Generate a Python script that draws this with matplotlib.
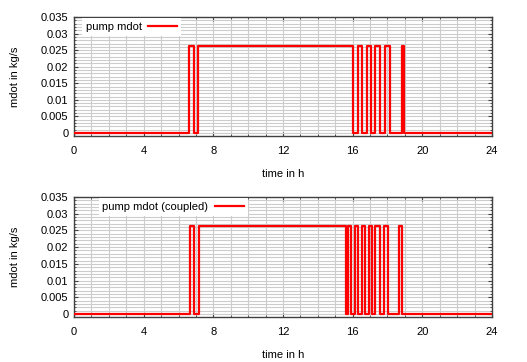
import matplotlib
matplotlib.use("Agg")
import matplotlib.pyplot as plt
from matplotlib.ticker import MultipleLocator, FuncFormatter

plt.rcParams['font.family'] = ['Liberation Sans', 'DejaVu Sans']

Q = 0.0263
# top: pump mdot (step changes, hours)
t_top = [0, 6.6, 6.9, 7.12, 16.04, 16.3, 16.56, 16.82, 17.03, 17.29, 17.57,
         17.88, 18.12, 18.81, 18.95, 24]
v_top = [0, Q, 0, Q, 0, Q, 0, Q, 0, Q, 0, Q, 0, Q, 0, 0]

# bottom: pump mdot (coupled)
t_bot = [0, 6.64, 6.9, 7.17, 15.61, 15.72, 15.92, 16.16, 16.33, 16.55, 16.72,
         16.92, 17.12, 17.31, 17.55, 17.8, 18.03, 18.64, 18.85, 24]
v_bot = [0, Q, 0, Q, 0, Q, 0, Q, 0, Q, 0, Q, 0, Q, 0, Q, 0, Q, 0, 0]

labels = ["pump mdot", "pump mdot (coupled)"]
xticks = [0, 4, 8, 12, 16, 20, 24]
yticks = [0, 0.005, 0.01, 0.015, 0.02, 0.025, 0.03, 0.035]

W, H = 527, 362
fig = plt.figure(figsize=(W / 100, H / 100), dpi=100)

def fmt(v, pos):
    return "%g" % round(v, 4)

specs = [
    (t_top, v_top, labels[0], 17, 136, (0.016, 1.0)),
    (t_bot, v_bot, labels[1], 197, 317, (0.056, 1.0)),
]
for t, v, lab, ytop, ybot, anchor in specs:
    ax = fig.add_axes([74 / W, 1 - ybot / H, 418 / W, (ybot - ytop) / H])
    ax.plot(t, v, drawstyle='steps-post', color='#ff0000', lw=1.6, label=lab,
            zorder=3)
    ax.set_xlim(0, 24)
    ax.set_ylim(-0.0009, 0.035)
    ax.set_xticks(xticks)
    ax.set_yticks(yticks)
    ax.xaxis.set_minor_locator(MultipleLocator(1))
    ax.yaxis.set_minor_locator(MultipleLocator(0.001))
    ax.yaxis.set_major_formatter(FuncFormatter(fmt))
    ax.grid(which='both', color='#cccccc', lw=0.8, zorder=0)
    ax.set_axisbelow(True)
    ax.tick_params(which='both', direction='in', top=True, right=True,
                   colors='#404040', labelcolor='black', labelsize=8)
    ax.tick_params(which='major', length=3)
    ax.tick_params(which='minor', length=1.5)
    ax.tick_params(axis='x', pad=7)
    ax.tick_params(axis='y', pad=4)
    for s in ax.spines.values():
        s.set_color('#404040')
        s.set_linewidth(1.0)
    ax.set_xlabel("time in h", fontsize=8, labelpad=9.5)
    ax.set_ylabel("mdot in kg/s", fontsize=8)
    ax.yaxis.set_label_coords(-0.13, 0.5)
    leg = ax.legend(loc='upper left', bbox_to_anchor=anchor, markerfirst=False,
                    fontsize=8, frameon=True, fancybox=False, framealpha=1,
                    edgecolor='none', facecolor='white', handlelength=2.6,
                    borderaxespad=0.1, borderpad=0.35, handletextpad=0.6)
    leg.set_zorder(5)

fig.savefig("out.png", dpi=100)
